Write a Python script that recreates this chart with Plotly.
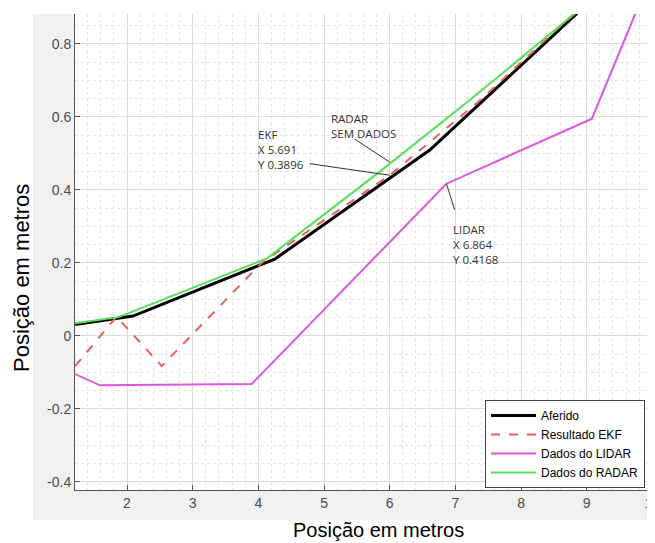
import plotly.graph_objects as go

# ---- data ----
x_aferido = [1.21, 2.09, 4.25, 6.61, 8.95]
y_aferido = [0.031, 0.054, 0.210, 0.509, 0.90]

x_ekf = [1.21, 1.84, 2.53, 4.05, 6.00, 7.38, 8.91]
y_ekf = [-0.083, 0.052, -0.083, 0.200, 0.440, 0.646, 0.90]

x_lidar = [1.21, 1.59, 3.90, 6.864, 9.08, 9.78]
y_lidar = [-0.105, -0.136, -0.132, 0.4168, 0.595, 0.90]

x_radar = [1.21, 1.87, 4.13, 5.85, 7.22, 8.93]
y_radar = [0.034, 0.051, 0.212, 0.450, 0.646, 0.90]

series_names = ["Aferido", "Resultado EKF", "Dados do LIDAR", "Dados do RADAR"]

x_ticks = [2, 3, 4, 5, 6, 7, 8, 9, 10]
y_ticks = [-0.4, -0.2, 0, 0.2, 0.4, 0.6, 0.8]
y_ticklabels = ["-0.4", "-0.2", "0", "0.2", "0.4", "0.6", "0.8"]

# data-tip annotations: (point x, point y, label)
ekf_tip = (6.00, 0.440, "EKF<br>X 5.691<br>Y 0.3896")
radar_tip = (6.00, 0.476, "RADAR<br>SEM DADOS")
lidar_tip = (6.864, 0.4168, "LIDAR<br>X 6.864<br>Y 0.4168")

# ---- figure ----
fig = go.Figure()
fig.add_trace(go.Scatter(x=x_aferido, y=y_aferido, mode="lines", name=series_names[0],
                         line=dict(color="#000000", width=3)))
fig.add_trace(go.Scatter(x=x_ekf, y=y_ekf, mode="lines", name=series_names[1],
                         line=dict(color="#e8605c", width=2, dash="dash")))
fig.add_trace(go.Scatter(x=x_lidar, y=y_lidar, mode="lines", name=series_names[2],
                         line=dict(color="#e055e0", width=2)))
fig.add_trace(go.Scatter(x=x_radar, y=y_radar, mode="lines", name=series_names[3],
                         line=dict(color="#55e055", width=2)))

# page has an 8px body margin: the figure sits at (8, 8) in the window
OFF = 8
WIN_W, WIN_H = 655, 543
W, H = WIN_W - OFF, WIN_H - OFF
# plot area in window pixels: left 75, right 655, top 14, bottom 490
L, T = 75 - OFF, 14 - OFF
R = 0
B = H - (490 - OFF)
pw, ph = W - L - R, H - T - B

def px_x(p):
    return (p - OFF - L) / pw

def px_y(p):
    return (H - B - (p - OFF)) / ph

gray = "#f0f0f0"
shapes = [
    dict(type="rect", xref="paper", yref="paper", x0=px_x(33), x1=0, y0=px_y(520), y1=1,
         fillcolor=gray, line=dict(width=0), layer="below"),
    dict(type="rect", xref="paper", yref="paper", x0=0, x1=1.01, y0=px_y(520), y1=0,
         fillcolor=gray, line=dict(width=0), layer="below"),
]

ann_font = dict(family="Open Sans, DejaVu Sans, sans-serif", size=11.5, color="#333333")
annotations = []
for (tx, ty, label), (ax, ay), (lx, ly) in [
    (ekf_tip, (-83, -12), (256, 125)),
    (radar_tip, (-38, -25), (329, 109)),
    (lidar_tip, (11, 35), (451, 220)),
]:
    annotations.append(dict(x=tx, y=ty, xref="x", yref="y", text=" ", showarrow=True,
                            ax=ax, ay=ay, arrowhead=0, arrowwidth=1, arrowcolor="#333333",
                            font=ann_font))
    annotations.append(dict(x=px_x(lx), y=px_y(ly), xref="paper", yref="paper", text=label,
                            showarrow=False, xanchor="left", yanchor="top", align="left",
                            font=ann_font))

annotations.append(dict(x=px_x(378), y=px_y(530), xref="paper", yref="paper",
                        text="Posição em metros", showarrow=False,
                        font=dict(family="Liberation Sans, Arial, sans-serif", size=20, color="#000000"),
                        xanchor="center", yanchor="middle"))
annotations.append(dict(x=px_x(21), y=px_y(278), xref="paper", yref="paper",
                        text="Posição em metros", showarrow=False,
                        font=dict(family="Liberation Sans, Arial, sans-serif", size=22, color="#000000"),
                        textangle=-90, xanchor="center", yanchor="middle"))

axis_common = dict(
    showline=True, linecolor="#555555", linewidth=1, mirror=False,
    ticks="inside", ticklen=5, tickcolor="#555555",
    showgrid=True, gridcolor="#dcdcdc", gridwidth=1, zeroline=False,
    ticklabeloverflow="allow",
    tickfont=dict(family="Liberation Sans, Arial, sans-serif", size=14, color="#4d4d4d"),
)

fig.update_layout(
    width=W, height=H,
    margin=dict(l=L, r=R, t=T, b=B, autoexpand=False),
    paper_bgcolor="#ffffff", plot_bgcolor="#ffffff",
    shapes=shapes, annotations=annotations,
    showlegend=True,
    legend=dict(x=px_x(645), y=px_y(400), xanchor="right", yanchor="top",
                bgcolor="#ffffff", bordercolor="#444444", borderwidth=1,
                itemwidth=45,
                font=dict(family="Liberation Sans, Arial, sans-serif", size=12, color="#000000"),
                tracegroupgap=0),
    xaxis=dict(range=[1.208, 10.04], tickvals=x_ticks, ticktext=[str(v) for v in x_ticks],
               minor=dict(dtick=0.2, showgrid=True, gridcolor="#e6e6e6", griddash="dot", ticks=""),
               **axis_common),
    yaxis=dict(range=[-0.4228, 0.882], tickvals=y_ticks, ticktext=y_ticklabels,
               minor=dict(dtick=0.05, showgrid=True, gridcolor="#e6e6e6", griddash="dot", ticks=""),
               **axis_common),
)

fig.write_html("out.html")
